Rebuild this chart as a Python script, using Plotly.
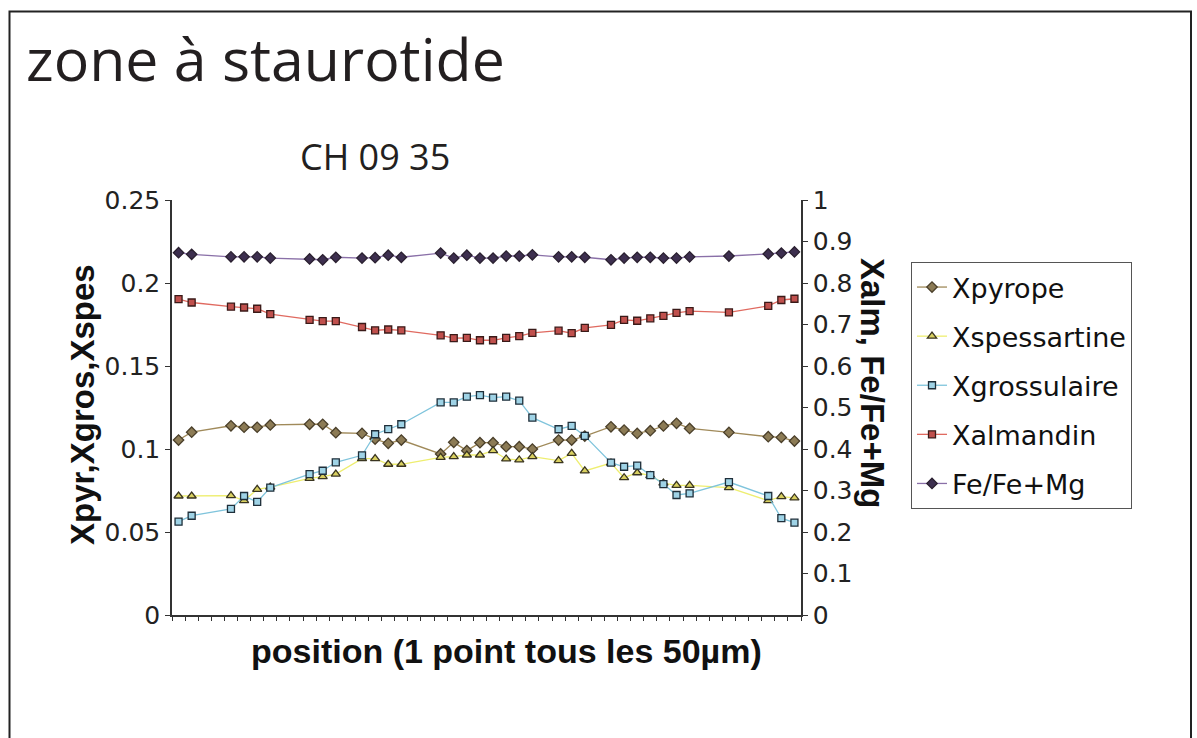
import plotly.graph_objects as go

# ---- data (category index along the traverse, 48 positions, some missing) ----
positions = [0, 1, 4, 5, 6, 7, 10, 11, 12, 14, 15, 16, 17, 20, 21, 22, 23, 24, 25, 26, 27,
             29, 30, 31, 33, 34, 35, 36, 37, 38, 39, 42, 45, 46, 47]

xpyrope = [0.1054, 0.1101, 0.1140, 0.1131, 0.1131, 0.1145, 0.1149, 0.1149, 0.1098, 0.1094,
           0.1060, 0.1034, 0.1054, 0.0970, 0.1040, 0.0990, 0.1038, 0.1038, 0.1014, 0.1014,
           0.1000, 0.1054, 0.1054, 0.1078, 0.1134, 0.1114, 0.1094, 0.1110, 0.1139, 0.1155,
           0.1124, 0.1100, 0.1074, 0.1070, 0.1048]

xspessartine = [0.0717, 0.0717, 0.0719, 0.0689, 0.0757, 0.0770, 0.0823, 0.0833, 0.0849, 0.0942,
                0.0942, 0.0908, 0.0908, 0.0950, 0.0954, 0.0964, 0.0964, 0.0990, 0.0940, 0.0934,
                0.0954, 0.0930, 0.0974, 0.0868, 0.0915, 0.0827, 0.0857, 0.0840, 0.0795, 0.0781,
                0.0781, 0.0767, 0.0689, 0.0713, 0.0705]

xgrossulaire = [0.0562, 0.0598, 0.0639, 0.0717, 0.0681, 0.0767, 0.0849, 0.0869, 0.0920, 0.0962,
                0.1089, 0.1120, 0.1149, 0.1281, 0.1281, 0.1315, 0.1325, 0.1309, 0.1315, 0.1291,
                0.1189, 0.1119, 0.1139, 0.1079, 0.0918, 0.0893, 0.0900, 0.0843, 0.0789, 0.0723,
                0.0733, 0.0801, 0.0717, 0.0583, 0.0556]

xalmandin = [0.761, 0.753, 0.743, 0.741, 0.738, 0.725, 0.711, 0.708, 0.708, 0.694,
             0.686, 0.688, 0.686, 0.674, 0.667, 0.668, 0.662, 0.662, 0.668, 0.672,
             0.680, 0.685, 0.679, 0.692, 0.699, 0.711, 0.709, 0.715, 0.721, 0.728,
             0.732, 0.729, 0.745, 0.759, 0.762]

fe_femg = [0.873, 0.869, 0.863, 0.863, 0.863, 0.860, 0.858, 0.856, 0.862, 0.860,
           0.861, 0.867, 0.862, 0.872, 0.860, 0.867, 0.860, 0.860, 0.865, 0.865,
           0.868, 0.863, 0.863, 0.862, 0.856, 0.860, 0.862, 0.862, 0.860, 0.860,
           0.863, 0.865, 0.870, 0.872, 0.875]

n_categories = 48
left_ticks = [0, 0.05, 0.1, 0.15, 0.2, 0.25]
left_ticktext = ["0", "0.05", "0.1", "0.15", "0.2", "0.25"]
right_ticks = [0, 0.1, 0.2, 0.3, 0.4, 0.5, 0.6, 0.7, 0.8, 0.9, 1.0]
right_ticktext = ["0", "0.1", "0.2", "0.3", "0.4", "0.5", "0.6", "0.7", "0.8", "0.9", "1"]

# ---- layout geometry (pixels) ----
W, H = 1197, 738
L, R, T, B = 172, 801, 200, 615
pw, ph = R - L, B - T


def px_x(p):
    return (p - L) / pw


def px_y(p):
    return (B - p) / ph


fig = go.Figure()

series = [
    ("Xpyrope", xpyrope, "y", "#a08a5a", "diamond", "#8c7b55", "#4a3f2a", 8),
    ("Xspessartine", xspessartine, "y", "#eeee70", "triangle-up", "#d9d060", "#3a3520", 8),
    ("Xgrossulaire", xgrossulaire, "y", "#7fc4dc", "square", "#9fd3e6", "#1f2f3a", 7),
    ("Xalmandin", xalmandin, "y2", "#e06a60", "square", "#c0504d", "#3a1a18", 7),
    ("Fe/Fe+Mg", fe_femg, "y2", "#8a70a8", "diamond", "#3d2f4f", "#2a2030", 8),
]

for i, (name, vals, yax, lc, sym, fc, oc, ms) in enumerate(series):
    fig.add_trace(go.Scatter(
        x=positions, y=vals, name=name, yaxis=yax, mode="lines+markers",
        line=dict(color=lc, width=1.3),
        marker=dict(symbol=sym, size=ms, color=fc, line=dict(color=oc, width=1.3)),
        legendgroup=f"g{i}",
    ))

axis_font = dict(family="DejaVu Sans", size=25, color="#222")
title_font = dict(family="Liberation Sans", size=33, color="#111", weight="bold")

fig.update_layout(
    width=W, height=H,
    margin=dict(l=L, r=W - R, t=T, b=H - B, pad=0),
    paper_bgcolor="white", plot_bgcolor="white",
    showlegend=True,
    xaxis=dict(
        range=[-0.5, n_categories - 0.5],
        tickvals=[k - 0.5 for k in range(n_categories + 1)],
        showticklabels=False, ticks="outside", ticklen=4, tickwidth=1, tickcolor="#333",
        showline=True, linecolor="#333", linewidth=1.5, showgrid=False, zeroline=False,
    ),
    yaxis=dict(
        range=[0, 0.25], tickvals=left_ticks, ticktext=left_ticktext,
        ticks="outside", ticklen=5, tickwidth=1, tickcolor="#333", tickfont=axis_font,
        showline=True, linecolor="#333", linewidth=1.5, showgrid=False, zeroline=False,
    ),
    yaxis2=dict(
        range=[0, 1], tickvals=right_ticks, ticktext=right_ticktext, overlaying="y", side="right",
        ticks="outside", ticklen=5, tickwidth=1, tickcolor="#333", tickfont=axis_font,
        showline=True, linecolor="#333", linewidth=1.5, showgrid=False, zeroline=False,
    ),
    legend=dict(
        x=px_x(911), y=px_y(262), xanchor="left", yanchor="top",
        bordercolor="#555", borderwidth=1, bgcolor="white",
        font=dict(family="DejaVu Sans", size=27, color="#111"),
        tracegroupgap=11, itemwidth=30,
    ),
    shapes=[dict(type="rect", xref="paper", yref="paper",
                 x0=px_x(9.5), x1=px_x(1191), y0=px_y(760), y1=px_y(11.5),
                 line=dict(color="#222", width=2), fillcolor="rgba(0,0,0,0)", layer="below")],
    annotations=[
        dict(text="zone à staurotide", xref="paper", yref="paper", x=px_x(24), y=px_y(58),
             xanchor="left", yanchor="middle", showarrow=False,
             font=dict(family="Open Sans", size=59, color="#231f20")),
        dict(text="CH 09 35", xref="paper", yref="paper", x=px_x(375), y=px_y(157),
             xanchor="center", yanchor="middle", showarrow=False,
             font=dict(family="Open Sans", size=36, color="#231f20")),
        dict(text="Xpyr,Xgros,Xspes", xref="paper", yref="paper", x=px_x(82), y=px_y(405),
             xanchor="center", yanchor="middle", textangle=-90, showarrow=False, font=title_font),
        dict(text="Xalm, Fe/Fe+Mg", xref="paper", yref="paper", x=px_x(873), y=px_y(383),
             xanchor="center", yanchor="middle", textangle=90, showarrow=False, font=title_font),
        dict(text="position (1 point tous les 50µm)", xref="paper", yref="paper", x=px_x(506), y=px_y(651),
             xanchor="center", yanchor="middle", showarrow=False,
             font=dict(family="Liberation Sans", size=34, color="#111", weight="bold")),
    ],
)

fig.write_html("out.html", config={"displayModeBar": False},
               post_script="document.body.style.margin='0';document.body.style.overflow='hidden';")
